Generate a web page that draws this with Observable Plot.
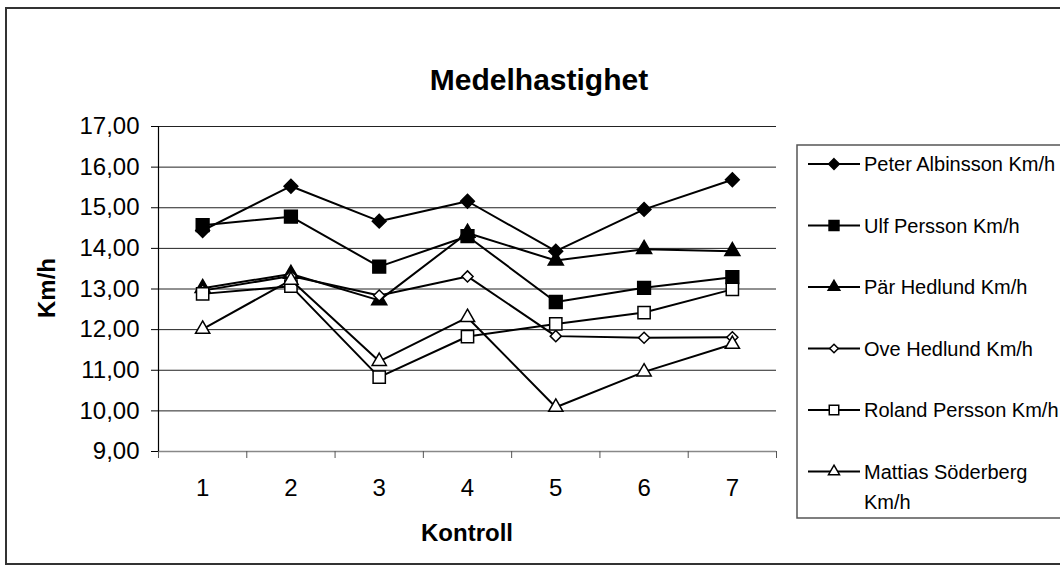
<!DOCTYPE html>
<html>
<head>
<meta charset="utf-8">
<script src="https://cdn.jsdelivr.net/npm/d3@7"></script>
<script src="https://cdn.jsdelivr.net/npm/@observablehq/plot@0.6"></script>
<style>
  html, body { margin: 0; padding: 0; background: #fff; }
  #chart { width: 1060px; height: 571px; overflow: hidden; }
</style>
</head>
<body>
<div id="chart"></div>
<script>
// ---- data ----
const kontroller = [1, 2, 3, 4, 5, 6, 7];
const peterAlbinsson = [14.44, 15.53, 14.67, 15.16, 13.93, 14.96, 15.69];
const ulfPersson = [14.57, 14.78, 13.55, 14.30, 12.68, 13.03, 13.29];
const parHedlund = [13.02, 13.37, 12.72, 14.38, 13.70, 13.98, 13.93];
const oveHedlund = [12.96, 13.32, 12.84, 13.31, 11.84, 11.80, 11.81];
const rolandPersson = [12.88, 13.07, 10.83, 11.83, 12.14, 12.42, 12.99];
const mattiasSoderberg = [12.01, 13.22, 11.22, 12.30, 10.09, 10.96, 11.64];
const seriesNames = [
  "Peter Albinsson Km/h",
  "Ulf Persson Km/h",
  "Pär Hedlund Km/h",
  "Ove Hedlund Km/h",
  "Roland Persson Km/h",
  "Mattias Söderberg Km/h"
];
const yTicks = [9, 10, 11, 12, 13, 14, 15, 16, 17];
const titleText = "Medelhastighet";
const xLabel = "Kontroll";
const yLabel = "Km/h";

// ---- styles per series ----
const seriesValues = [peterAlbinsson, ulfPersson, parHedlund, oveHedlund, rolandPersson, mattiasSoderberg];
const markerStyles = [
  {symbol: "diamond2", r: 6.2, fill: "black", stroke: "black"},
  {symbol: "square", r: 7.2, fill: "black", stroke: "black"},
  {symbol: "triangle", r: 5.6, fill: "black", stroke: "black"},
  {symbol: "diamond2", r: 5.0, fill: "white", stroke: "black"},
  {symbol: "square2", r: 7.8, fill: "white", stroke: "black"},
  {symbol: "triangle2", r: 6.8, fill: "white", stroke: "black"}
];

const rows = [];
seriesValues.forEach((vals, i) => {
  vals.forEach((v, j) => rows.push({series: seriesNames[i], si: i, x: kontroller[j], y: v}));
});
const boundaries = [0.5].concat(kontroller.map(k => k + 0.5));

const W = 1060, H = 571;
const marks = [
  Plot.ruleY(yTicks.slice(1), {stroke: "#222", strokeWidth: 1}),
  Plot.ruleY([yTicks[0]], {stroke: "#888", strokeWidth: 1.5}),
  Plot.ruleX([boundaries[0]], {stroke: "black", strokeWidth: 1.2}),
  Plot.axisX({ticks: boundaries, tickFormat: () => "", tickSize: 7, stroke: "#555", label: null}),
  Plot.axisX({ticks: kontroller, tickSize: 0, tickPadding: 27, fontSize: 24, tickFormat: d => String(d), label: null}),
  Plot.axisY({ticks: yTicks, tickSize: 7, tickPadding: 12, fontSize: 24,
    tickFormat: d => d.toFixed(2).replace(".", ","), label: null})
];
seriesValues.forEach((vals, i) => {
  const data = rows.filter(r => r.si === i);
  const m = markerStyles[i];
  marks.push(Plot.line(data, {x: "x", y: "y", stroke: "black", strokeWidth: 2}));
  marks.push(Plot.dot(data, {x: "x", y: "y", symbol: () => m.symbol, r: m.r, fill: m.fill, stroke: m.stroke, strokeWidth: 1.5}));
});

const svgNode = Plot.plot({
  width: W,
  height: H,
  marginLeft: 158,
  marginRight: 284,
  marginTop: 126,
  marginBottom: 120,
  x: {domain: [0.5, 7.5], axis: null},
  y: {domain: [9, 17], axis: null},
  symbol: {type: "identity"},
  style: {fontFamily: "'Liberation Sans', Arial, sans-serif", color: "black", background: "white", overflow: "hidden"},
  marks
});
document.getElementById("chart").appendChild(svgNode);

// ---- extra chart furniture (title, axis titles, legend, border) ----
const svg = d3.select(svgNode);
svg.append("rect").attr("x", 6).attr("y", 8).attr("width", 1080).attr("height", 556)
  .attr("fill", "none").attr("stroke", "#333").attr("stroke-width", 2);
svg.append("text").text(titleText).attr("x", 539).attr("y", 90)
  .attr("text-anchor", "middle").attr("font-size", 30).attr("font-weight", "bold");
svg.append("text").text(xLabel).attr("x", 467).attr("y", 541)
  .attr("text-anchor", "middle").attr("font-size", 24).attr("font-weight", "bold");
svg.append("text").text(yLabel).attr("transform", "translate(55,288) rotate(-90)")
  .attr("text-anchor", "middle").attr("font-size", 24).attr("font-weight", "bold");

const lg = svg.append("g").attr("text-anchor", "start");
lg.append("rect").attr("x", 797).attr("y", 145).attr("width", 400).attr("height", 373)
  .attr("fill", "white").attr("stroke", "#555").attr("stroke-width", 1.5);
const symMap = {
  diamond2: d3.symbolDiamond2, square: d3.symbolSquare, triangle: d3.symbolTriangle,
  square2: d3.symbolSquare2, triangle2: d3.symbolTriangle2
};
const rowY0 = 164, rowStep = 61.5;
seriesNames.forEach((name, i) => {
  const y = rowY0 + i * rowStep;
  const m = markerStyles[i];
  lg.append("line").attr("x1", 808).attr("x2", 860).attr("y1", y).attr("y2", y)
    .attr("stroke", "black").attr("stroke-width", 2);
  lg.append("path").attr("d", d3.symbol(symMap[m.symbol], Math.PI * m.r * m.r * 0.6)())
    .attr("transform", `translate(834,${y})`).attr("fill", m.fill).attr("stroke", m.stroke).attr("stroke-width", 1.5);
  const t = lg.append("text").attr("x", 864).attr("y", y).attr("dy", "0.36em")
    .attr("font-size", 20).attr("text-anchor", "start");
  if (name === "Mattias Söderberg Km/h") {
    t.append("tspan").attr("x", 864).text("Mattias Söderberg");
    t.append("tspan").attr("x", 864).attr("dy", "1.5em").text("Km/h");
  } else {
    t.text(name);
  }
});
</script>
</body>
</html>
